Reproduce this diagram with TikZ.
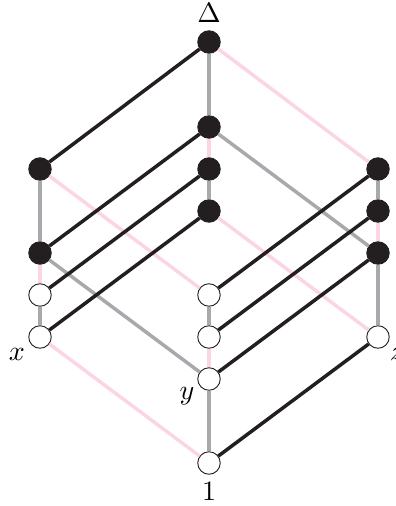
\documentclass[tikz,border=0pt]{standalone}
\definecolor{inkblack}{HTML}{231F20}
\definecolor{linegray}{HTML}{A7A9AC}
\definecolor{linepink}{HTML}{FBD5E5}
\tikzset{
  solidpt/.style={circle,draw=inkblack,fill=inkblack,line width=0.9pt,minimum size=22.5pt,inner sep=0pt},
  openpt/.style={circle,draw=inkblack,fill=white,line width=0.9pt,minimum size=22.5pt,inner sep=0pt},
  lbl/.style={scale=2.8,text=black,inner sep=0pt},
  blk/.style={draw=inkblack,line width=3.5pt},
  gry/.style={draw=linegray,line width=3.5pt},
  pnk/.style={draw=linepink,line width=3.5pt}
}
\begin{document}
\begin{tikzpicture}[x=1pt,y=-1pt]
\useasboundingbox (0,0) rectangle (396,506);
% solid points
\node[solidpt] (t)  at (209,42) {};
\node[solidpt] (m1) at (209,127) {};
\node[solidpt] (m2) at (209,169) {};
\node[solidpt] (m3) at (209,211) {};
\node[solidpt] (l1) at (40,169) {};
\node[solidpt] (l2) at (40,253) {};
\node[solidpt] (r1) at (378,169) {};
\node[solidpt] (r2) at (378,211) {};
\node[solidpt] (r3) at (378,253) {};
% open points
\node[openpt] (l3) at (40,295) {};
\node[openpt] (x)  at (40,337) {};
\node[openpt] (c1) at (209,295) {};
\node[openpt] (c2) at (209,337) {};
\node[openpt] (y)  at (209,379) {};
\node[openpt] (z)  at (378,337) {};
\node[openpt] (b)  at (209,463) {};
% labels
\node[lbl] (lD) at (209,13) {$\Delta$};
\node[lbl] (l1b) at (209,491) {$1$};
\node[lbl] (lx) at (17,354) {$x$};
\node[lbl] (ly) at (187,396) {$y$};
\node[lbl] (lz) at (397,354) {$z$};
% pink
\path[pnk] (t) -- (r1);
\path[pnk] (l1) -- (c1);
\path[pnk] (m3) -- (z);
\path[pnk] (x) -- (b);
\path[pnk] (l2) -- (l3);
\path[pnk] (m1) -- (m2);
\path[pnk] (c2) -- (y);
\path[pnk] (r2) -- (r3);
% gray
\path[gry] (t) -- (m1);
\path[gry] (m2) -- (m3);
\path[gry] (c1) -- (c2);
\path[gry] (y) -- (b);
\path[gry] (l1) -- (l2);
\path[gry] (l3) -- (x);
\path[gry] (r1) -- (r2);
\path[gry] (r3) -- (z);
\path[gry] (m1) -- (r3);
\path[gry] (l2) -- (y);
% black
\path[blk] (t) -- (l1);
\path[blk] (m1) -- (l2);
\path[blk] (m2) -- (l3);
\path[blk] (m3) -- (x);
\path[blk] (r1) -- (c1);
\path[blk] (r2) -- (c2);
\path[blk] (r3) -- (y);
\path[blk] (z) -- (b);
\end{tikzpicture}
\end{document}
